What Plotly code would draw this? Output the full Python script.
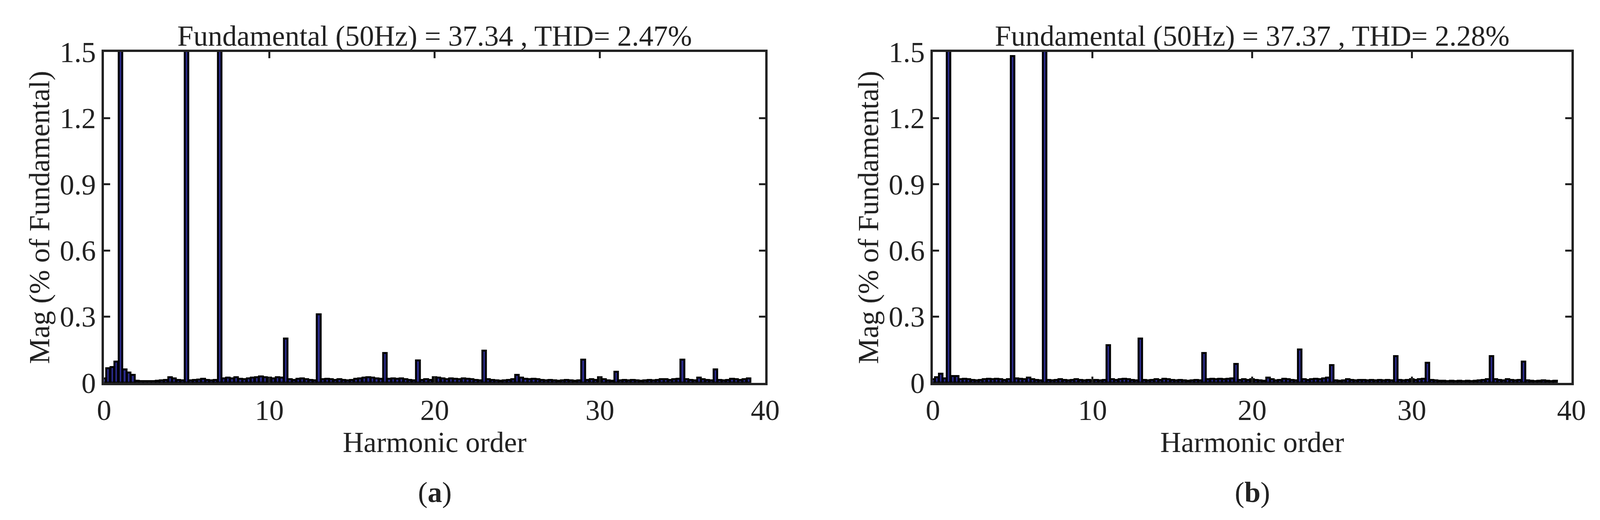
import plotly.graph_objects as go

# harmonic order at 0.25 steps, 0..40
orders = [i * 0.25 for i in range(161)]

mag_a = [
 0.02,0.065,0.07,0.095,100,0.06,0.045,0.035,0.008,0.006,0.006,0.007,0.006,0.008,0.01,0.012,
 0.025,0.02,0.012,0.01,37.0,0.01,0.012,0.014,0.018,0.012,0.01,0.012,16.0,0.02,0.022,0.02,
 0.025,0.018,0.015,0.02,0.022,0.025,0.028,0.025,0.022,0.02,0.025,0.022,0.2,0.015,0.012,0.018,
 0.02,0.015,0.012,0.01,0.31,0.015,0.018,0.015,0.012,0.015,0.012,0.01,0.012,0.018,0.02,0.022,
 0.025,0.022,0.02,0.018,0.135,0.018,0.02,0.018,0.02,0.015,0.012,0.01,0.1,0.012,0.015,0.012,
 0.025,0.022,0.02,0.015,0.02,0.018,0.015,0.02,0.018,0.015,0.012,0.01,0.145,0.015,0.012,0.01,
 0.008,0.01,0.012,0.015,0.035,0.022,0.018,0.015,0.018,0.015,0.012,0.01,0.012,0.01,0.008,0.01,
 0.012,0.01,0.008,0.01,0.105,0.012,0.015,0.012,0.025,0.015,0.01,0.008,0.05,0.01,0.012,0.01,
 0.012,0.01,0.008,0.01,0.012,0.01,0.012,0.015,0.015,0.012,0.015,0.018,0.105,0.015,0.012,0.01,
 0.022,0.015,0.012,0.01,0.06,0.012,0.01,0.012,0.018,0.015,0.012,0.015,0.02,
]

mag_b = [
 0.015,0.025,0.04,0.02,100,0.03,0.03,0.015,0.018,0.015,0.012,0.01,0.012,0.015,0.018,0.015,
 0.018,0.015,0.012,0.015,1.48,0.02,0.018,0.015,0.022,0.015,0.012,0.01,16.0,0.012,0.01,0.012,
 0.015,0.012,0.01,0.012,0.015,0.012,0.01,0.012,0.01,0.012,0.01,0.012,0.17,0.015,0.012,0.015,
 0.018,0.015,0.012,0.01,0.2,0.012,0.01,0.012,0.015,0.012,0.018,0.015,0.012,0.01,0.012,0.01,
 0.008,0.01,0.012,0.01,0.135,0.015,0.018,0.015,0.018,0.015,0.018,0.02,0.085,0.012,0.015,0.012,
 0.015,0.012,0.01,0.008,0.022,0.015,0.01,0.012,0.018,0.015,0.012,0.01,0.15,0.015,0.012,0.015,
 0.018,0.015,0.02,0.022,0.08,0.01,0.008,0.01,0.015,0.012,0.01,0.012,0.012,0.01,0.012,0.01,
 0.012,0.01,0.012,0.01,0.12,0.012,0.01,0.012,0.015,0.012,0.015,0.018,0.09,0.012,0.01,0.008,
 0.008,0.006,0.008,0.006,0.008,0.006,0.008,0.006,0.008,0.01,0.012,0.015,0.12,0.015,0.012,0.01,
 0.015,0.012,0.01,0.012,0.095,0.01,0.008,0.006,0.008,0.01,0.008,0.006,0.008,
]

titles = ["Fundamental (50Hz) = 37.34 , THD= 2.47%", "Fundamental (50Hz) = 37.37 , THD= 2.28%"]
panel_labels = ["(<b>a</b>)", "(<b>b</b>)"]
x_ticks = [0, 10, 20, 30, 40]
y_ticks = [0, 0.3, 0.6, 0.9, 1.2, 1.5]
y_tick_text = ["0", "0.3", "0.6", "0.9", "1.2", "1.5"]

FONT = "Liberation Serif"
FS = 74
fig = go.Figure()
domains = [[0.058, 0.468], [0.572, 0.968]]
for k, mags in enumerate([mag_a, mag_b]):
    sfx = "" if k == 0 else "2"
    fig.add_trace(go.Bar(x=orders, y=mags, width=0.22,
                         marker=dict(color="#2b2b8c", line=dict(color="black", width=5)),
                         xaxis="x" + sfx, yaxis="y" + sfx, showlegend=False))
    ax = dict(domain=domains[k], range=[0, 40], tickvals=x_ticks, ticks="inside", ticklen=16,
              tickwidth=5, tickcolor="#222", showline=True, linewidth=6, linecolor="#222",
              mirror="ticks", showgrid=False, zeroline=False,
              tickfont=dict(family=FONT, size=FS, color="#222"),
              title=dict(text="Harmonic order", font=dict(family=FONT, size=FS, color="#222"), standoff=0))
    ay = dict(domain=[0.254, 0.932], range=[0, 1.5], tickvals=y_ticks, ticktext=y_tick_text,
              ticks="inside", ticklen=16, tickwidth=5, tickcolor="#222", showline=True,
              linewidth=6, linecolor="#222", mirror="ticks", showgrid=False, zeroline=False,
              tickfont=dict(family=FONT, size=FS, color="#222"),
              title=dict(text="Mag (% of Fundamental)", font=dict(family=FONT, size=FS, color="#222"), standoff=4))
    if k == 1:
        ax["anchor"] = "y2"
        ay["anchor"] = "x2"
    fig.update_layout(**{"xaxis" + sfx: ax, "yaxis" + sfx: ay})
    cx = sum(domains[k]) / 2
    fig.add_annotation(x=cx, y=0.93, xref="paper", yref="paper", xanchor="center", yanchor="bottom",
                       showarrow=False, text=titles[k], font=dict(family=FONT, size=FS, color="#222"))
    fig.add_annotation(x=cx, y=0.03, xref="paper", yref="paper", xanchor="center", yanchor="middle",
                       showarrow=False, text=panel_labels[k], font=dict(family=FONT, size=FS, color="#222"))

fig.update_layout(width=4184, height=1331, margin=dict(l=0, r=0, t=0, b=0),
                  plot_bgcolor="white", paper_bgcolor="white", bargap=0)
fig.write_html("out.html")
